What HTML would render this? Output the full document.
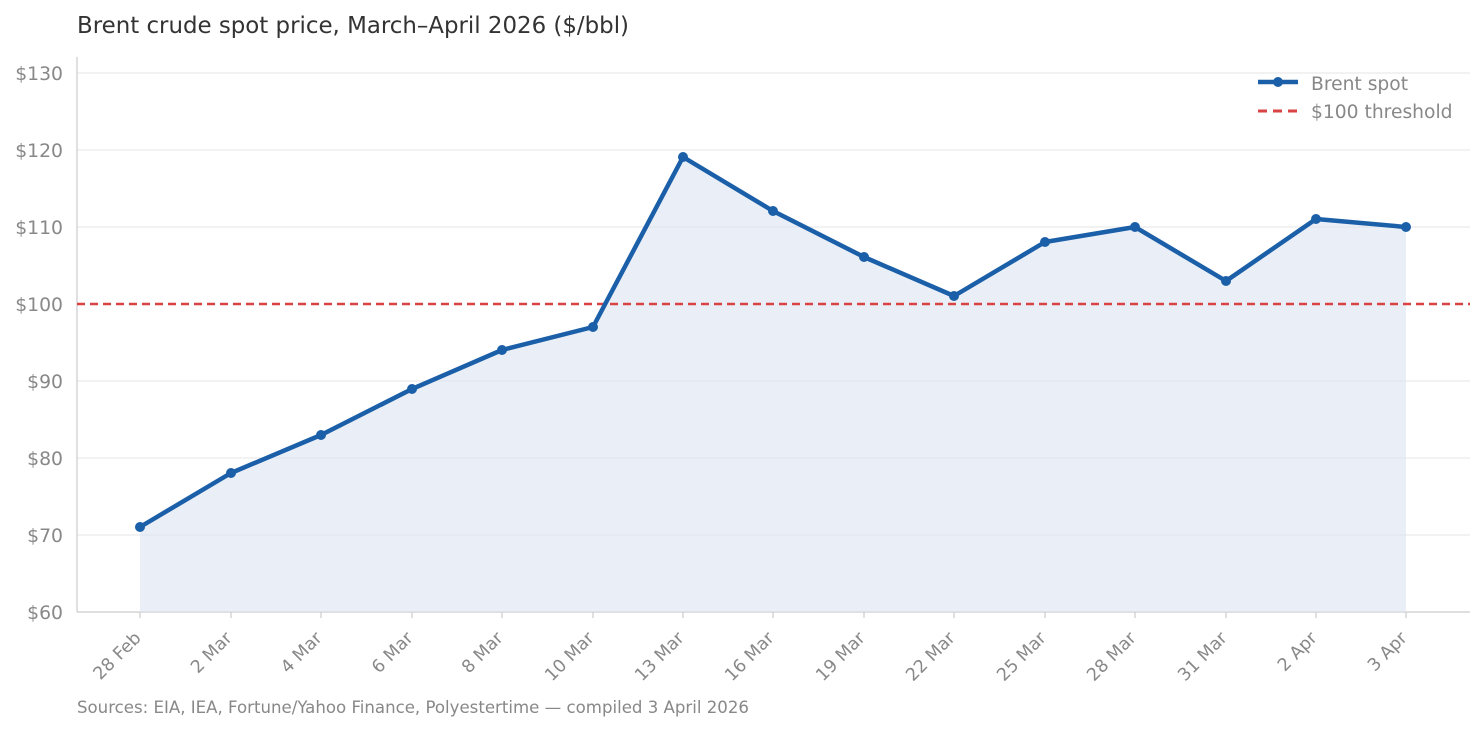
<!DOCTYPE html>
<html><head><meta charset="utf-8"><style>
html,body{margin:0;padding:0;background:#fff;}
svg{display:block;font-family:"DejaVu Sans","Liberation Sans",sans-serif;}
</style></head><body>
<svg width="1484" height="731" viewBox="0 0 1484 731" xmlns="http://www.w3.org/2000/svg">
<text x="77" y="33" font-size="22.9" fill="#333">Brent crude spot price, March–April 2026 ($/bbl)</text>
<g stroke="#ebebeb" stroke-width="1.2">
<line x1="77" x2="1470" y1="73" y2="73"/><line x1="77" x2="1470" y1="150" y2="150"/>
<line x1="77" x2="1470" y1="227" y2="227"/><line x1="77" x2="1470" y1="381" y2="381"/>
<line x1="77" x2="1470" y1="458" y2="458"/><line x1="77" x2="1470" y1="535" y2="535"/>
</g>
<line x1="77" y1="57" x2="77" y2="612" stroke="#ccc" stroke-width="1.2"/>
<line x1="77" y1="612" x2="1470" y2="612" stroke="#ccc" stroke-width="1.2"/>
<g font-size="18.8" fill="#888" text-anchor="end">
<text x="63" y="80">$130</text><text x="63" y="157">$120</text><text x="63" y="234">$110</text>
<text x="63" y="311">$100</text><text x="63" y="388">$90</text><text x="63" y="465">$80</text>
<text x="63" y="542">$70</text><text x="63" y="619">$60</text>
</g>
<polygon fill="#dce5f2" fill-opacity="0.6" points="140,612 140,527 231,473 321,435 412,389 502,350 593,327 683,157 773,211 864,257 954,296 1045,242 1135,227 1226,281 1316,219 1406,227 1406,612"/>
<line x1="77" x2="1470" y1="304" y2="304" stroke="#d94343" stroke-width="2.5" stroke-dasharray="8,5"/>
<polyline fill="none" stroke="#1a5fa8" stroke-width="4.5" stroke-linejoin="round" points="140,527 231,473 321,435 412,389 502,350 593,327 683,157 773,211 864,257 954,296 1045,242 1135,227 1226,281 1316,219 1406,227"/>
<g fill="#1a5fa8">
<circle cx="140" cy="527" r="5"/><circle cx="231" cy="473" r="5"/><circle cx="321" cy="435" r="5"/><circle cx="412" cy="389" r="5"/><circle cx="502" cy="350" r="5"/><circle cx="593" cy="327" r="5"/><circle cx="683" cy="157" r="5"/><circle cx="773" cy="211" r="5"/><circle cx="864" cy="257" r="5"/><circle cx="954" cy="296" r="5"/><circle cx="1045" cy="242" r="5"/><circle cx="1135" cy="227" r="5"/><circle cx="1226" cy="281" r="5"/><circle cx="1316" cy="219" r="5"/><circle cx="1406" cy="227" r="5"/>
</g>
<g stroke="#ccc" stroke-width="1.2">
<line x1="140" x2="140" y1="612" y2="618"/><line x1="231" x2="231" y1="612" y2="618"/><line x1="321" x2="321" y1="612" y2="618"/><line x1="412" x2="412" y1="612" y2="618"/><line x1="502" x2="502" y1="612" y2="618"/><line x1="593" x2="593" y1="612" y2="618"/><line x1="683" x2="683" y1="612" y2="618"/><line x1="773" x2="773" y1="612" y2="618"/><line x1="864" x2="864" y1="612" y2="618"/><line x1="954" x2="954" y1="612" y2="618"/><line x1="1045" x2="1045" y1="612" y2="618"/><line x1="1135" x2="1135" y1="612" y2="618"/><line x1="1226" x2="1226" y1="612" y2="618"/><line x1="1316" x2="1316" y1="612" y2="618"/><line x1="1406" x2="1406" y1="612" y2="618"/>
</g>
<g font-size="17.5" fill="#888" text-anchor="end">
<text transform="translate(142,639) rotate(-45)">28 Feb</text>
<text transform="translate(233,639) rotate(-45)">2 Mar</text>
<text transform="translate(323,639) rotate(-45)">4 Mar</text>
<text transform="translate(414,639) rotate(-45)">6 Mar</text>
<text transform="translate(504,639) rotate(-45)">8 Mar</text>
<text transform="translate(595,639) rotate(-45)">10 Mar</text>
<text transform="translate(685,639) rotate(-45)">13 Mar</text>
<text transform="translate(775,639) rotate(-45)">16 Mar</text>
<text transform="translate(866,639) rotate(-45)">19 Mar</text>
<text transform="translate(956,639) rotate(-45)">22 Mar</text>
<text transform="translate(1047,639) rotate(-45)">25 Mar</text>
<text transform="translate(1137,639) rotate(-45)">28 Mar</text>
<text transform="translate(1228,639) rotate(-45)">31 Mar</text>
<text transform="translate(1318,639) rotate(-45)">2 Apr</text>
<text transform="translate(1408,639) rotate(-45)">3 Apr</text>
</g>
<line x1="1258" x2="1298" y1="82" y2="82" stroke="#1a5fa8" stroke-width="4.5"/>
<circle cx="1278" cy="82" r="5" fill="#1a5fa8"/>
<line x1="1258" x2="1298" y1="111" y2="111" stroke="#d94343" stroke-width="3" stroke-dasharray="9,6"/>
<g font-size="18.7" fill="#888">
<text x="1311" y="90">Brent spot</text><text x="1311" y="118">$100 threshold</text>
</g>
<text x="77" y="713" font-size="16.6" fill="#888">Sources: EIA, IEA, Fortune/Yahoo Finance, Polyestertime — compiled 3 April 2026</text>
</svg>
</body></html>
